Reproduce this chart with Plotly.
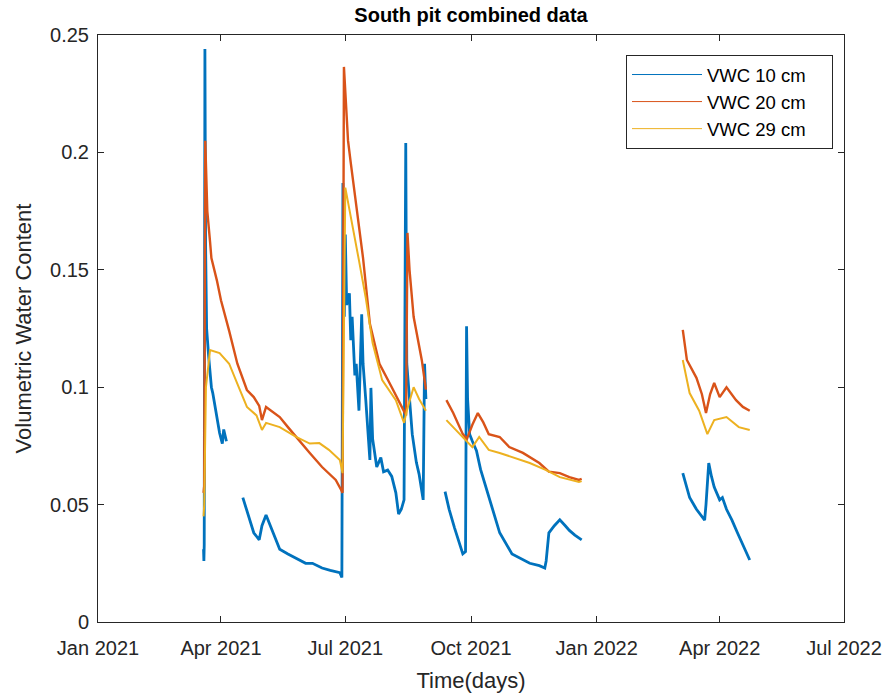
import plotly.graph_objects as go

# South pit soil moisture logs (volumetric water content, m3/m3).
# None marks a logger gap so the line breaks there.
vwc10_dates = [
    "2021-03-19 06:00", "2021-03-19 12:00", "2021-03-19 18:00", "2021-03-20 06:00",
    "2021-03-20 18:00", "2021-03-21 12:00", "2021-03-23", "2021-03-25", "2021-03-26",
    "2021-03-28", "2021-03-31", "2021-04-02", "2021-04-03", "2021-04-05",
    None,
    "2021-04-17", "2021-04-20", "2021-04-25", "2021-04-29", "2021-05-01", "2021-05-04",
    "2021-05-08", "2021-05-14", "2021-05-20", "2021-05-26", "2021-06-02", "2021-06-07",
    "2021-06-14", "2021-06-20", "2021-06-27", "2021-06-28 12:00",
    "2021-06-29 06:00", "2021-06-29 18:00", "2021-06-30 06:00", "2021-07-01",
    "2021-07-02", "2021-07-04", "2021-07-05", "2021-07-06", "2021-07-08", "2021-07-09",
    "2021-07-11", "2021-07-13", "2021-07-14", "2021-07-16", "2021-07-18", "2021-07-19",
    "2021-07-19 18:00", "2021-07-21", "2021-07-24", "2021-07-27", "2021-07-29",
    "2021-08-01", "2021-08-04", "2021-08-07", "2021-08-09", "2021-08-11", "2021-08-13",
    "2021-08-14 06:00", "2021-08-14 18:00", "2021-08-15", "2021-08-17", "2021-08-19",
    "2021-08-22", "2021-08-24", "2021-08-27", "2021-08-28", "2021-08-29",
    None,
    "2021-09-12", "2021-09-15", "2021-09-19", "2021-09-22", "2021-09-25", "2021-09-27",
    "2021-09-27 18:00", "2021-09-28 12:00", "2021-09-30", "2021-10-02", "2021-10-05",
    "2021-10-08", "2021-10-12", "2021-10-15", "2021-10-22", "2021-10-31", "2021-11-07",
    "2021-11-13", "2021-11-20", "2021-11-24", "2021-11-25", "2021-11-27", "2021-12-01",
    "2021-12-05", "2021-12-09", "2021-12-12", "2021-12-16", "2021-12-19", "2021-12-21",
    None,
    "2022-03-05", "2022-03-08", "2022-03-10", "2022-03-15", "2022-03-21", "2022-03-22",
    "2022-03-24", "2022-03-26", "2022-03-28", "2022-04-01", "2022-04-03", "2022-04-06",
    "2022-04-10", "2022-04-14", "2022-04-18", "2022-04-23",
]
vwc10 = [
    0.031, 0.026, 0.033, 0.244,
    0.160, 0.125, 0.113, 0.100, 0.0975,
    0.090, 0.0805, 0.076, 0.082, 0.077,
    None,
    0.053, 0.047, 0.038, 0.035, 0.041, 0.0456,
    0.040, 0.031, 0.029, 0.027, 0.025, 0.025,
    0.023, 0.022, 0.021, 0.019,
    0.187, 0.150, 0.130, 0.165,
    0.135, 0.140, 0.120, 0.130, 0.105, 0.110,
    0.090, 0.131, 0.110, 0.0945, 0.080, 0.069,
    0.0997, 0.078, 0.066, 0.070, 0.064,
    0.0647, 0.062, 0.055, 0.046, 0.048, 0.052,
    0.204, 0.140, 0.110, 0.095, 0.080,
    0.068, 0.063, 0.052, 0.110, 0.095,
    None,
    0.0555, 0.048, 0.040, 0.034, 0.029, 0.030,
    0.126, 0.095, 0.080, 0.077, 0.073,
    0.065, 0.0575, 0.051, 0.038, 0.029, 0.027,
    0.025, 0.024, 0.023, 0.026, 0.038, 0.041,
    0.0435, 0.041, 0.039, 0.037, 0.036, 0.035,
    None,
    0.0634, 0.057, 0.053, 0.048, 0.0434, 0.050,
    0.0677, 0.062, 0.0575, 0.052, 0.053, 0.048,
    0.0434, 0.038, 0.033, 0.0264,
]

vwc20_dates = [
    "2021-03-19 06:00", "2021-03-19 18:00", "2021-03-20 12:00", "2021-03-21",
    "2021-03-22", "2021-03-24", "2021-03-25", "2021-03-29", "2021-04-01", "2021-04-07",
    "2021-04-13", "2021-04-20", "2021-04-25", "2021-04-29", "2021-05-01", "2021-05-04",
    "2021-05-08", "2021-05-14", "2021-05-20", "2021-05-26", "2021-06-05", "2021-06-14",
    "2021-06-24", "2021-06-28", "2021-06-29", "2021-06-30", "2021-07-01", "2021-07-03",
    "2021-07-05", "2021-07-09", "2021-07-14", "2021-07-19", "2021-07-26", "2021-08-04",
    "2021-08-10", "2021-08-13", "2021-08-14 12:00", "2021-08-15 12:00", "2021-08-17",
    "2021-08-20", "2021-08-26", "2021-08-29",
    None,
    "2021-09-13", "2021-09-18", "2021-09-25", "2021-09-28", "2021-10-02", "2021-10-06",
    "2021-10-10", "2021-10-14", "2021-10-22", "2021-10-29", "2021-11-08", "2021-11-20",
    "2021-11-27", "2021-12-05", "2021-12-12", "2021-12-19", "2021-12-21",
    None,
    "2022-03-05", "2022-03-08", "2022-03-15", "2022-03-19", "2022-03-22", "2022-03-25",
    "2022-03-28", "2022-04-01", "2022-04-06", "2022-04-13", "2022-04-18", "2022-04-23",
]
vwc20 = [
    0.055, 0.058, 0.205, 0.190,
    0.175, 0.162, 0.155, 0.1455, 0.137, 0.124,
    0.110, 0.0988, 0.0958, 0.092, 0.086, 0.0916,
    0.090, 0.0873, 0.083, 0.0788, 0.072, 0.066,
    0.0605, 0.0562, 0.055, 0.2364, 0.225, 0.205,
    0.1955, 0.178, 0.155, 0.127, 0.110, 0.100,
    0.093, 0.090, 0.088, 0.1657, 0.150,
    0.130, 0.1115, 0.099,
    None,
    0.0945, 0.089, 0.080, 0.078, 0.084, 0.089,
    0.085, 0.080, 0.0788, 0.0745, 0.072, 0.0677,
    0.064, 0.0634, 0.0617, 0.0605, 0.061,
    None,
    0.1244, 0.1116, 0.104, 0.097, 0.089, 0.097,
    0.1018, 0.0958, 0.100, 0.0945, 0.0916, 0.090,
]

vwc29_dates = [
    "2021-03-19 06:00", "2021-03-19 18:00", "2021-03-21", "2021-03-24", "2021-03-31",
    "2021-04-07", "2021-04-14", "2021-04-20", "2021-04-27", "2021-05-01", "2021-05-04",
    "2021-05-14", "2021-05-26", "2021-06-05", "2021-06-12", "2021-06-19", "2021-06-27",
    "2021-06-29", "2021-07-01", "2021-07-06", "2021-07-11", "2021-07-16", "2021-07-21",
    "2021-07-28", "2021-08-07", "2021-08-13", "2021-08-15", "2021-08-20", "2021-08-24",
    "2021-08-29",
    None,
    "2021-09-13", "2021-09-25", "2021-10-02", "2021-10-07", "2021-10-14", "2021-10-22",
    "2021-10-31", "2021-11-13", "2021-11-25", "2021-12-05", "2021-12-19", "2021-12-21",
    None,
    "2022-03-05", "2022-03-10", "2022-03-17", "2022-03-23", "2022-03-28", "2022-04-06",
    "2022-04-15", "2022-04-23",
]
vwc29 = [
    0.045, 0.050, 0.100, 0.1158, 0.1145,
    0.110, 0.100, 0.0916, 0.088, 0.0818, 0.0848,
    0.083, 0.0788, 0.076, 0.0762, 0.0733, 0.069,
    0.0634, 0.185, 0.170, 0.154, 0.138, 0.1188,
    0.103, 0.0945, 0.0848, 0.090, 0.100, 0.095,
    0.090,
    None,
    0.086, 0.0788, 0.0745, 0.0788, 0.0733, 0.072,
    0.0703, 0.0677, 0.0647, 0.0617, 0.0596, 0.060,
    None,
    0.1116, 0.0975, 0.090, 0.080, 0.086, 0.0873,
    0.083, 0.0818,
]

series_names = ["VWC 10 cm", "VWC 20 cm", "VWC 29 cm"]
series_colors = ["#0072BD", "#D95319", "#EDB120"]
series_widths = [2.8, 2.4, 2.0]
x_tick_dates = ["2021-01-01", "2021-04-01", "2021-07-01", "2021-10-01",
                "2022-01-01", "2022-04-01", "2022-07-01"]
x_tick_labels = ["Jan 2021", "Apr 2021", "Jul 2021", "Oct 2021",
                 "Jan 2022", "Apr 2022", "Jul 2022"]
y_ticks = [0, 0.05, 0.1, 0.15, 0.2, 0.25]
y_tick_labels = ["0", "0.05", "0.1", "0.15", "0.2", "0.25"]

FONT = "Liberation Sans, Arial, Helvetica, sans-serif"
AXIS_COLOR = "#262626"
LEGEND_PAD = "\u00a0" * 4  # trailing room inside the legend box

fig = go.Figure()
for dates, vals, name, color, width in zip(
    [vwc10_dates, vwc20_dates, vwc29_dates], [vwc10, vwc20, vwc29],
    series_names, series_colors, series_widths,
):
    # data line (heavier than the legend key to show the logger scatter band)
    fig.add_trace(go.Scatter(
        x=dates, y=vals, mode="lines", name=name, showlegend=False,
        line=dict(color=color, width=width), connectgaps=False,
    ))
    # thin legend entry
    fig.add_trace(go.Scatter(
        x=[None], y=[None], mode="lines", name=name + LEGEND_PAD, showlegend=True,
        line=dict(color=color, width=1), hoverinfo="skip",
    ))

fig.update_layout(
    width=893, height=700,
    margin=dict(l=98, r=49, t=35, b=78),
    paper_bgcolor="white", plot_bgcolor="white",
    font=dict(family=FONT, size=20, color=AXIS_COLOR),
    title=dict(text="<b>South pit combined data</b>", x=(98 + 844) / 2 / 893,
               xanchor="center", y=1 - 15 / 700, yanchor="middle",
               font=dict(size=20, color="black")),
    showlegend=True,
    legend=dict(
        x=(626 - 98) / 746, y=(622 - 55) / 587, xanchor="left", yanchor="top",
        bgcolor="white", bordercolor=AXIS_COLOR, borderwidth=1,
        font=dict(size=18.5, color="black"), itemwidth=70,
        tracegroupgap=0, itemsizing="trace",
    ),
    xaxis=dict(
        type="date", range=["2021-01-01", "2022-07-01"],
        tickvals=x_tick_dates, ticktext=x_tick_labels,
        ticks="inside", ticklen=6, tickcolor=AXIS_COLOR, tickwidth=1,
        showline=True, linecolor=AXIS_COLOR, linewidth=1, mirror="ticks",
        showgrid=False, zeroline=False, ticklabelstandoff=8,
        tickfont=dict(size=20, color=AXIS_COLOR),
        title=dict(text="Time(days)", font=dict(size=22, color=AXIS_COLOR), standoff=14),
    ),
    yaxis=dict(
        range=[0, 0.25], tickvals=y_ticks, ticktext=y_tick_labels,
        ticks="inside", ticklen=6, tickcolor=AXIS_COLOR, tickwidth=1,
        showline=True, linecolor=AXIS_COLOR, linewidth=1, mirror="ticks",
        showgrid=False, zeroline=False, ticklabelstandoff=4,
        tickfont=dict(size=20, color=AXIS_COLOR),
        title=dict(text="Volumetric Water Content", font=dict(size=22, color=AXIS_COLOR),
                   standoff=12),
    ),
)

fig.write_html("out.html")
